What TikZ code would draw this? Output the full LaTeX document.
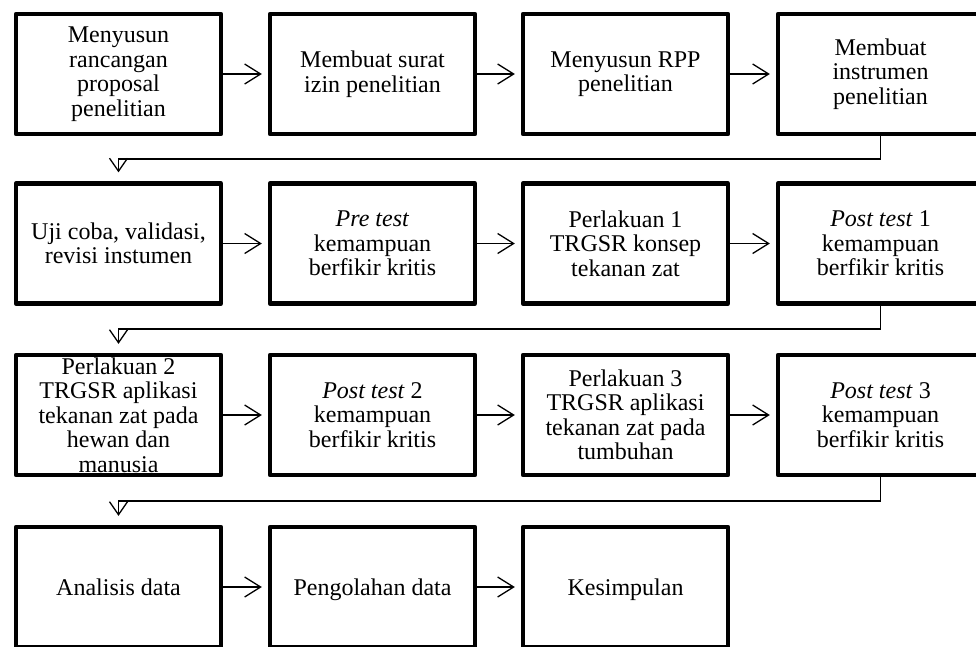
\documentclass[tikz,border=0pt]{standalone}
\usepackage{fontspec}
\setmainfont{Liberation Serif}
\usetikzlibrary{arrows.meta}
\begin{document}
\begin{tikzpicture}[x=1pt,y=-1pt,
  stepbox/.style={draw, line width=4.3pt, line join=round, minimum width=205pt, minimum height=120pt, inner sep=0pt, align=center, font=\fontsize{24}{24.5}\selectfont},
  onebox/.style={stepbox, text height=16.4pt, text depth=0pt},
  harrow/.style={line width=1.3pt, -{Straight Barb[length=16pt,width=20pt]}},
  varrow/.style={line width=1.3pt, -{Straight Barb[length=13pt,width=18pt]}}]
\useasboundingbox (0,0) rectangle (976,646);
\clip (0,0) rectangle (976,646);
% row 1
\node[stepbox] (a1) at (118.5,74) {Menyusun\\rancangan\\proposal\\penelitian};
\node[stepbox] (a2) at (372.5,74) {Membuat surat\\izin penelitian};
\node[stepbox] (a3) at (625.5,74) {Menyusun RPP\\penelitian};
\node[stepbox] (a4) at (880.5,74) {Membuat\\instrumen\\penelitian};
% row 2
\node[stepbox] (b1) at (118.5,243.5) {Uji coba, validasi,\\revisi instumen};
\node[stepbox] (b2) at (372.5,243.5) {\textit{Pre test}\\kemampuan\\berfikir kritis};
\node[stepbox] (b3) at (625.5,243.5) {Perlakuan 1\\TRGSR konsep\\tekanan zat};
\node[stepbox] (b4) at (880.5,243.5) {\textit{Post test} 1\\kemampuan\\berfikir kritis};
% row 3
\node[stepbox] (c1) at (118.5,415) {Perlakuan 2\\TRGSR aplikasi\\tekanan zat pada\\hewan dan\\manusia};
\node[stepbox] (c2) at (372.5,415) {\textit{Post test} 2\\kemampuan\\berfikir kritis};
\node[stepbox] (c3) at (625.5,415) {Perlakuan 3\\TRGSR aplikasi\\tekanan zat pada\\tumbuhan};
\node[stepbox] (c4) at (880.5,415) {\textit{Post test} 3\\kemampuan\\berfikir kritis};
% row 4
\node[onebox] (d1) at (118.5,587) {Analisis data};
\node[onebox] (d2) at (372.5,587) {Pengolahan data};
\node[onebox] (d3) at (625.5,587) {Kesimpulan};
% horizontal arrows
\foreach \r in {a,b,c} {
  \draw[harrow] (\r1.east) -- ([xshift=-6pt]\r2.west);
  \draw[harrow] (\r2.east) -- ([xshift=-6pt]\r3.west);
  \draw[harrow] (\r3.east) -- ([xshift=-6pt]\r4.west);
}
\draw[harrow] (d1.east) -- ([xshift=-6pt]d2.west);
\draw[harrow] (d2.east) -- ([xshift=-6pt]d3.west);
% row connectors
\coordinate (k1) at (0,159);
\coordinate (k2) at (0,329);
\coordinate (k3) at (0,501);
\draw[varrow] (a4.south) -- (a4.south |- k1) -- (b1.north |- k1) -- ([yshift=9pt]b1.north);
\draw[varrow] (b4.south) -- (b4.south |- k2) -- (c1.north |- k2) -- ([yshift=9pt]c1.north);
\draw[varrow] (c4.south) -- (c4.south |- k3) -- (d1.north |- k3) -- ([yshift=9pt]d1.north);
\end{tikzpicture}
\end{document}
